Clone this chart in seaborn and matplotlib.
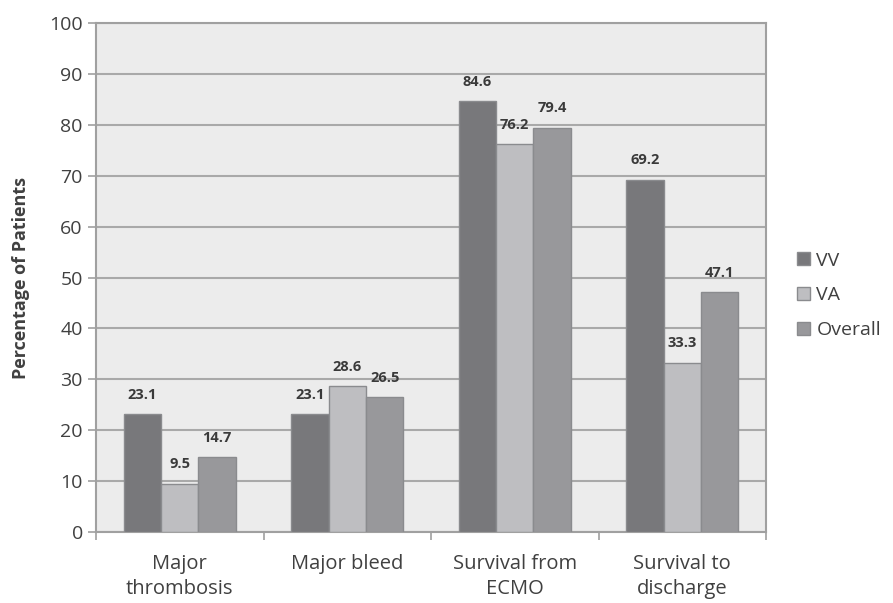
import pandas as pd
import seaborn as sns
import matplotlib.pyplot as plt
from matplotlib.ticker import FixedLocator

# dados
categorias = ["Major\nthrombosis", "Major bleed", "Survival from\nECMO", "Survival to\ndischarge"]
grupos = ["VV", "VA", "Overall"]
valores_vv = [23.1, 23.1, 84.6, 69.2]
valores_va = [9.5, 28.6, 76.2, 33.3]
valores_overall = [14.7, 26.5, 79.4, 47.1]

cores = ["#77787c", "#bdbec2", "#97989c"]
cor_texto = "#404040"

df = pd.DataFrame({
    "Categoria": categorias * 3,
    "Grupo": ["VV"] * 4 + ["VA"] * 4 + ["Overall"] * 4,
    "Valor": valores_vv + valores_va + valores_overall,
})

sns.set_theme(style="white")
plt.rcParams['font.family'] = ['Open Sans', 'DejaVu Sans']

fig = plt.figure(figsize=(8.93, 6.03), dpi=100)
ax = fig.add_axes([0.1075, 0.1177, 0.7503, 0.8442])
ax.set_facecolor("#ececec")

sns.barplot(data=df, x="Categoria", y="Valor", hue="Grupo", hue_order=grupos,
            order=categorias, palette=cores, width=0.67, edgecolor="#8a8b8e",
            linewidth=1, ax=ax, zorder=3)

# rótulos de valor
for cont in ax.containers:
    for barra in cont:
        h = barra.get_height()
        ax.annotate(f"{h:.1f}", (barra.get_x() + barra.get_width() / 2, h),
                    xytext=(0, 9), textcoords="offset points", ha="center",
                    va="bottom", fontsize=10.5, fontweight="bold", color="#3a3a3a")

ax.set_ylim(0, 100)
ax.set_xlim(-0.5, 3.5)
ax.set_yticks(range(0, 101, 10))
ax.yaxis.grid(True, color="#a9a9a9", linewidth=1.5, zorder=0)
ax.set_axisbelow(True)

ax.tick_params(axis="y", direction="out", length=6, width=1.2, color="#a0a0a0",
               labelsize=14, labelcolor=cor_texto, left=True)
ax.tick_params(axis="x", which="major", length=0, labelsize=14.5,
               labelcolor=cor_texto, pad=16)
for rotulo in ax.get_xticklabels():
    rotulo.set_linespacing(1.3)
    rotulo.set_verticalalignment("top")
ax.xaxis.set_minor_locator(FixedLocator([-0.5, 0.5, 1.5, 2.5, 3.5]))
ax.tick_params(axis="x", which="minor", direction="out", length=6, width=1.2,
               color="#a0a0a0", bottom=True)

for lado in ["left", "right", "top", "bottom"]:
    ax.spines[lado].set_visible(True)
    ax.spines[lado].set_color("#a0a0a0")
    ax.spines[lado].set_linewidth(1.5)

ax.set_xlabel("")
ax.set_ylabel("Percentage of Patients", fontsize=13, fontweight="bold",
              color=cor_texto, labelpad=14)

ax.legend(title=None, frameon=False, loc="center left",
          bbox_to_anchor=(1.02, 0.465), fontsize=14, labelcolor=cor_texto,
          handlelength=0.65, handleheight=0.65, handletextpad=0.35,
          labelspacing=0.85)

fig.savefig("out.png", dpi=100)
